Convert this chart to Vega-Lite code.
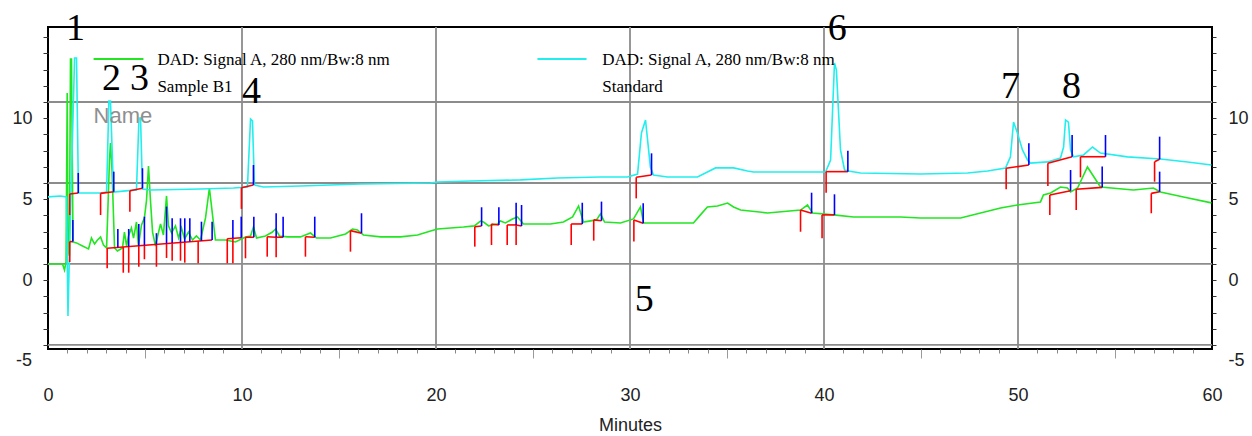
{
"$schema": "https://vega.github.io/schema/vega-lite/v6.json",
"width": 1164, "height": 322,
"autosize": {"type": "none"},
"padding": {"left": 48, "top": 27, "right": 40, "bottom": 87},
"background": "white",
"config": {
  "view": {"stroke": "#000", "strokeWidth": 2},
  "axis": {"domain": false, "grid": false, "labelFont": "Liberation Sans", "labelFontSize": 18, "labelColor": "#222", "tickColor": "#333", "titleFont": "Liberation Sans", "titleFontSize": 18, "titleFontWeight": "normal", "titleColor": "#222"}
},
"datasets": {
  "gx": [{"g":10},{"g":20},{"g":30},{"g":40},{"g":50}],
  "gy": [{"g":11},{"g":6},{"g":1},{"g":-4}],
  "tr": [
{"s":"G","t":0,"v":1.0},{"s":"G","t":0.75,"v":1.0},{"s":"G","t":0.85,"v":0.63},{"s":"G","t":0.93,"v":1.12},{"s":"G","t":0.99,"v":11.55},{"s":"G","t":1.03,"v":1.86},{"s":"G","t":1.10,"v":1.5},{"s":"G","t":1.16,"v":13.65},{"s":"G","t":1.21,"v":13.65},{"s":"G","t":1.29,"v":2.36},{"s":"G","t":1.47,"v":2.30},{"s":"G","t":1.78,"v":2.11},{"s":"G","t":2.09,"v":1.93},{"s":"G","t":2.24,"v":2.60},{"s":"G","t":2.40,"v":2.23},{"s":"G","t":2.55,"v":2.48},{"s":"G","t":2.71,"v":2.67},{"s":"G","t":2.86,"v":2.17},{"s":"G","t":3.02,"v":1.99},{"s":"G","t":3.17,"v":7.42},{"s":"G","t":3.22,"v":8.47},{"s":"G","t":3.30,"v":6.80},{"s":"G","t":3.43,"v":1.99},{"s":"G","t":3.58,"v":1.80},{"s":"G","t":3.84,"v":1.99},{"s":"G","t":3.94,"v":2.97},{"s":"G","t":4.05,"v":2.11},{"s":"G","t":4.15,"v":2.73},{"s":"G","t":4.30,"v":3.22},{"s":"G","t":4.41,"v":2.60},{"s":"G","t":4.56,"v":3.59},{"s":"G","t":4.66,"v":2.11},{"s":"G","t":4.82,"v":3.41},{"s":"G","t":4.97,"v":3.84},{"s":"G","t":5.08,"v":4.95},{"s":"G","t":5.18,"v":7.05},{"s":"G","t":5.28,"v":4.95},{"s":"G","t":5.39,"v":2.97},{"s":"G","t":5.54,"v":2.11},{"s":"G","t":5.70,"v":2.97},{"s":"G","t":5.80,"v":3.47},{"s":"G","t":5.95,"v":2.79},{"s":"G","t":6.11,"v":5.20},{"s":"G","t":6.21,"v":3.35},{"s":"G","t":6.37,"v":2.91},{"s":"G","t":6.57,"v":3.35},{"s":"G","t":6.73,"v":2.60},{"s":"G","t":6.88,"v":3.22},{"s":"G","t":7.04,"v":2.54},{"s":"G","t":7.24,"v":2.97},{"s":"G","t":7.45,"v":2.48},{"s":"G","t":7.65,"v":2.73},{"s":"G","t":7.86,"v":2.48},{"s":"G","t":8.12,"v":3.84},{"s":"G","t":8.32,"v":5.69},{"s":"G","t":8.48,"v":4.03},{"s":"G","t":8.63,"v":2.48},{"s":"G","t":9.15,"v":2.48},{"s":"G","t":9.66,"v":2.36},{"s":"G","t":10.18,"v":2.67},{"s":"G","t":10.44,"v":2.73},{"s":"G","t":10.59,"v":3.28},{"s":"G","t":10.75,"v":2.60},{"s":"G","t":11.21,"v":2.73},{"s":"G","t":11.57,"v":2.97},{"s":"G","t":11.73,"v":3.16},{"s":"G","t":11.93,"v":2.73},{"s":"G","t":12.35,"v":2.67},{"s":"G","t":13.01,"v":2.67},{"s":"G","t":13.53,"v":2.91},{"s":"G","t":13.84,"v":2.60},{"s":"G","t":14.56,"v":2.60},{"s":"G","t":15.34,"v":2.85},{"s":"G","t":15.70,"v":3.16},{"s":"G","t":15.95,"v":3.10},{"s":"G","t":16.26,"v":2.79},{"s":"G","t":17.14,"v":2.67},{"s":"G","t":18.17,"v":2.67},{"s":"G","t":19.05,"v":2.79},{"s":"G","t":19.72,"v":3.04},{"s":"G","t":20.08,"v":3.16},{"s":"G","t":21.42,"v":3.28},{"s":"G","t":21.98,"v":3.35},{"s":"G","t":22.29,"v":3.65},{"s":"G","t":22.45,"v":3.59},{"s":"G","t":22.71,"v":3.35},{"s":"G","t":23.17,"v":3.47},{"s":"G","t":23.32,"v":3.65},{"s":"G","t":23.58,"v":3.53},{"s":"G","t":23.94,"v":3.78},{"s":"G","t":24.20,"v":3.90},{"s":"G","t":24.51,"v":3.47},{"s":"G","t":25.90,"v":3.47},{"s":"G","t":26.57,"v":3.59},{"s":"G","t":27.04,"v":3.90},{"s":"G","t":27.35,"v":4.58},{"s":"G","t":27.60,"v":3.59},{"s":"G","t":28.27,"v":3.72},{"s":"G","t":28.48,"v":4.09},{"s":"G","t":28.69,"v":3.59},{"s":"G","t":29.51,"v":3.53},{"s":"G","t":30.18,"v":3.78},{"s":"G","t":30.54,"v":4.52},{"s":"G","t":30.70,"v":3.53},{"s":"G","t":31.93,"v":3.53},{"s":"G","t":33.27,"v":3.53},{"s":"G","t":33.63,"v":4.03},{"s":"G","t":33.99,"v":4.52},{"s":"G","t":34.51,"v":4.58},{"s":"G","t":35.03,"v":4.76},{"s":"G","t":35.34,"v":4.52},{"s":"G","t":35.70,"v":4.33},{"s":"G","t":37.09,"v":4.15},{"s":"G","t":38.79,"v":4.33},{"s":"G","t":39.15,"v":4.64},{"s":"G","t":39.41,"v":4.15},{"s":"G","t":40.49,"v":4.03},{"s":"G","t":41.52,"v":3.90},{"s":"G","t":43.94,"v":3.90},{"s":"G","t":44.97,"v":3.84},{"s":"G","t":47.04,"v":3.84},{"s":"G","t":48.07,"v":4.15},{"s":"G","t":49.10,"v":4.46},{"s":"G","t":49.97,"v":4.64},{"s":"G","t":51.16,"v":4.83},{"s":"G","t":51.31,"v":5.26},{"s":"G","t":51.68,"v":5.38},{"s":"G","t":52.19,"v":5.75},{"s":"G","t":52.55,"v":5.69},{"s":"G","t":52.71,"v":5.44},{"s":"G","t":53.07,"v":5.69},{"s":"G","t":53.58,"v":6.99},{"s":"G","t":54.25,"v":5.75},{"s":"G","t":55.95,"v":5.57},{"s":"G","t":56.98,"v":5.69},{"s":"G","t":57.34,"v":5.44},{"s":"G","t":58.53,"v":5.14},{"s":"G","t":59.97,"v":4.77},
{"s":"C","t":0,"v":5.14},{"s":"C","t":0.64,"v":5.20},{"s":"C","t":0.95,"v":5.14},{"s":"C","t":1.03,"v":-2.21},{"s":"C","t":1.11,"v":1.86},{"s":"C","t":1.37,"v":13.72},{"s":"C","t":1.47,"v":13.72},{"s":"C","t":1.57,"v":5.38},{"s":"C","t":2.19,"v":5.38},{"s":"C","t":2.71,"v":5.38},{"s":"C","t":3.02,"v":5.44},{"s":"C","t":3.14,"v":11.06},{"s":"C","t":3.22,"v":11.06},{"s":"C","t":3.38,"v":5.44},{"s":"C","t":4.00,"v":5.51},{"s":"C","t":4.56,"v":5.57},{"s":"C","t":4.69,"v":10.01},{"s":"C","t":4.77,"v":10.01},{"s":"C","t":4.87,"v":5.63},{"s":"C","t":5.28,"v":5.57},{"s":"C","t":7.86,"v":5.63},{"s":"C","t":9.56,"v":5.69},{"s":"C","t":10.28,"v":5.75},{"s":"C","t":10.44,"v":9.95},{"s":"C","t":10.54,"v":9.83},{"s":"C","t":10.64,"v":5.88},{"s":"C","t":11.10,"v":5.75},{"s":"C","t":13.01,"v":5.81},{"s":"C","t":16.11,"v":5.94},{"s":"C","t":19.72,"v":6.0},{"s":"C","t":20.08,"v":6.06},{"s":"C","t":21.78,"v":6.12},{"s":"C","t":24.36,"v":6.19},{"s":"C","t":26.26,"v":6.31},{"s":"C","t":28.48,"v":6.37},{"s":"C","t":29.87,"v":6.37},{"s":"C","t":30.39,"v":6.55},{"s":"C","t":30.59,"v":9.09},{"s":"C","t":30.80,"v":9.89},{"s":"C","t":31.05,"v":6.99},{"s":"C","t":31.21,"v":6.49},{"s":"C","t":31.93,"v":6.37},{"s":"C","t":33.48,"v":6.37},{"s":"C","t":33.99,"v":6.68},{"s":"C","t":34.41,"v":6.93},{"s":"C","t":35.34,"v":6.93},{"s":"C","t":36.06,"v":6.74},{"s":"C","t":36.37,"v":6.68},{"s":"C","t":40.08,"v":6.68},{"s":"C","t":40.34,"v":7.42},{"s":"C","t":40.54,"v":13.41},{"s":"C","t":40.64,"v":12.97},{"s":"C","t":40.85,"v":8.04},{"s":"C","t":41.06,"v":6.80},{"s":"C","t":41.26,"v":6.74},{"s":"C","t":41.88,"v":6.62},{"s":"C","t":44.97,"v":6.55},{"s":"C","t":47.40,"v":6.62},{"s":"C","t":48.43,"v":6.74},{"s":"C","t":49.36,"v":6.93},{"s":"C","t":49.61,"v":7.61},{"s":"C","t":49.77,"v":9.76},{"s":"C","t":49.97,"v":9.09},{"s":"C","t":50.23,"v":8.04},{"s":"C","t":50.49,"v":7.42},{"s":"C","t":50.64,"v":7.23},{"s":"C","t":51.52,"v":7.30},{"s":"C","t":52.19,"v":7.54},{"s":"C","t":52.35,"v":8.22},{"s":"C","t":52.45,"v":9.89},{"s":"C","t":52.60,"v":9.76},{"s":"C","t":52.71,"v":8.04},{"s":"C","t":52.86,"v":7.61},{"s":"C","t":53.38,"v":7.73},{"s":"C","t":53.84,"v":8.22},{"s":"C","t":54.25,"v":7.85},{"s":"C","t":55.64,"v":7.61},{"s":"C","t":57.34,"v":7.48},{"s":"C","t":58.74,"v":7.30},{"s":"C","t":59.97,"v":7.11}
  ],
  "ig": [
{"k":"b","t":1.12,"v":5.32,"t2":1.56,"v2":5.38},{"k":"s","t":1.12,"v":5.32,"t2":1.12,"v2":4.02},{"k":"e","t":1.56,"v":5.38,"t2":1.56,"v2":6.62},
{"k":"b","t":2.71,"v":5.36,"t2":3.39,"v2":5.46},{"k":"s","t":2.71,"v":5.36,"t2":2.71,"v2":4.02},{"k":"e","t":3.39,"v":5.46,"t2":3.39,"v2":6.70},
{"k":"b","t":4.22,"v":5.52,"t2":4.87,"v2":5.67},{"k":"s","t":4.22,"v":5.52,"t2":4.22,"v2":4.23},{"k":"e","t":4.87,"v":5.67,"t2":4.87,"v2":6.91},
{"k":"b","t":9.97,"v":5.71,"t2":10.59,"v2":5.88},{"k":"s","t":9.97,"v":5.71,"t2":9.97,"v2":4.40},{"k":"e","t":10.59,"v":5.88,"t2":10.59,"v2":7.11},
{"k":"b","t":30.32,"v":6.35,"t2":31.11,"v2":6.49},{"k":"s","t":30.32,"v":6.35,"t2":30.32,"v2":5.05},{"k":"e","t":31.11,"v":6.49,"t2":31.11,"v2":7.83},
{"k":"b","t":40.11,"v":6.70,"t2":41.23,"v2":6.70},{"k":"s","t":40.11,"v":6.70,"t2":40.11,"v2":5.40},{"k":"e","t":41.23,"v":6.70,"t2":41.23,"v2":7.99},
{"k":"b","t":49.39,"v":6.91,"t2":50.56,"v2":7.11},{"k":"s","t":49.39,"v":6.91,"t2":49.39,"v2":5.61},{"k":"e","t":50.56,"v":7.11,"t2":50.56,"v2":8.45},
{"k":"b","t":51.54,"v":7.22,"t2":52.79,"v2":7.62},{"k":"s","t":51.54,"v":7.22,"t2":51.54,"v2":5.81},{"k":"e","t":52.79,"v":7.62,"t2":52.79,"v2":8.96},
{"k":"b","t":53.22,"v":7.62,"t2":54.51,"v2":7.62},{"k":"s","t":53.22,"v":7.62,"t2":53.22,"v2":6.35},{"k":"e","t":54.51,"v":7.62,"t2":54.51,"v2":8.96},
{"k":"b","t":57.04,"v":7.31,"t2":57.30,"v2":7.46},{"k":"s","t":57.04,"v":7.31,"t2":57.04,"v2":6.08},{"k":"e","t":57.30,"v":7.46,"t2":57.30,"v2":8.86},
{"k":"b","t":1.12,"v":2.38,"t2":1.28,"v2":2.38},{"k":"s","t":1.12,"v":2.38,"t2":1.12,"v2":1.12},{"k":"e","t":1.28,"v":2.38,"t2":1.28,"v2":3.72},
{"k":"b","t":3.05,"v":1.97,"t2":8.46,"v2":2.48},{"k":"b","t":9.24,"v":2.56,"t2":9.96,"v2":2.62},
{"k":"s","t":3.05,"v":1.97,"t2":3.05,"v2":0.73},{"k":"s","t":3.88,"v":2.05,"t2":3.88,"v2":0.46},{"k":"s","t":4.16,"v":2.07,"t2":4.16,"v2":0.46},{"k":"s","t":4.68,"v":2.12,"t2":4.68,"v2":0.83},{"k":"s","t":4.97,"v":2.15,"t2":4.97,"v2":1.29},{"k":"s","t":5.59,"v":2.21,"t2":5.59,"v2":0.83},{"k":"s","t":6.11,"v":2.26,"t2":6.11,"v2":1.37},{"k":"s","t":6.40,"v":2.29,"t2":6.40,"v2":1.20},{"k":"s","t":6.83,"v":2.33,"t2":6.83,"v2":1.20},{"k":"s","t":7.05,"v":2.35,"t2":7.05,"v2":1.08},{"k":"s","t":7.74,"v":2.42,"t2":7.74,"v2":1.04},{"k":"s","t":9.24,"v":2.56,"t2":9.24,"v2":1.04},{"k":"s","t":9.53,"v":2.59,"t2":9.53,"v2":1.04},
{"k":"e","t":3.60,"v":2.02,"t2":3.60,"v2":3.16},{"k":"e","t":4.16,"v":2.07,"t2":4.16,"v2":3.16},{"k":"e","t":4.68,"v":2.12,"t2":4.68,"v2":3.47},{"k":"e","t":4.97,"v":2.15,"t2":4.97,"v2":3.92},{"k":"e","t":5.59,"v":2.21,"t2":5.59,"v2":2.90},{"k":"e","t":6.11,"v":2.26,"t2":6.11,"v2":4.54},{"k":"e","t":6.40,"v":2.29,"t2":6.40,"v2":3.82},{"k":"e","t":6.83,"v":2.33,"t2":6.83,"v2":3.82},{"k":"e","t":7.05,"v":2.35,"t2":7.05,"v2":3.82},{"k":"e","t":7.31,"v":2.38,"t2":7.31,"v2":3.82},{"k":"e","t":7.91,"v":2.43,"t2":7.91,"v2":3.61},{"k":"e","t":8.46,"v":2.48,"t2":8.46,"v2":3.61},{"k":"e","t":9.53,"v":2.59,"t2":9.53,"v2":3.72},{"k":"e","t":9.96,"v":2.62,"t2":9.96,"v2":3.92},
{"k":"b","t":10.18,"v":2.65,"t2":10.61,"v2":2.65},{"k":"s","t":10.18,"v":2.65,"t2":10.18,"v2":1.35},{"k":"e","t":10.61,"v":2.65,"t2":10.61,"v2":3.92},
{"k":"b","t":11.30,"v":2.68,"t2":11.76,"v2":2.65},{"k":"s","t":11.30,"v":2.68,"t2":11.30,"v2":1.45},{"k":"e","t":11.76,"v":2.65,"t2":11.76,"v2":4.13},
{"k":"b","t":11.76,"v":2.65,"t2":12.12,"v2":2.65},{"k":"s","t":11.76,"v":2.65,"t2":11.76,"v2":1.41},{"k":"e","t":12.12,"v":2.65,"t2":12.12,"v2":3.92},
{"k":"b","t":13.27,"v":2.68,"t2":13.75,"v2":2.65},{"k":"s","t":13.27,"v":2.68,"t2":13.27,"v2":1.45},{"k":"e","t":13.75,"v":2.65,"t2":13.75,"v2":3.92},
{"k":"b","t":15.59,"v":3.06,"t2":16.16,"v2":2.90},{"k":"s","t":15.59,"v":3.06,"t2":15.59,"v2":1.76},{"k":"e","t":16.16,"v":2.90,"t2":16.16,"v2":4.13},
{"k":"b","t":22.0,"v":3.30,"t2":22.35,"v2":3.34},{"k":"s","t":22.0,"v":3.30,"t2":22.0,"v2":2.07},{"k":"e","t":22.35,"v":3.34,"t2":22.35,"v2":4.50},
{"k":"b","t":22.86,"v":3.47,"t2":23.24,"v2":3.41},{"k":"s","t":22.86,"v":3.47,"t2":22.86,"v2":2.17},{"k":"e","t":23.24,"v":3.41,"t2":23.24,"v2":4.50},
{"k":"b","t":23.67,"v":3.41,"t2":24.13,"v2":3.41},{"k":"s","t":23.67,"v":3.41,"t2":23.67,"v2":2.17},{"k":"e","t":24.13,"v":3.41,"t2":24.13,"v2":4.78},
{"k":"b","t":24.13,"v":3.41,"t2":24.41,"v2":3.34},{"k":"s","t":24.13,"v":3.41,"t2":24.13,"v2":2.17},{"k":"e","t":24.41,"v":3.34,"t2":24.41,"v2":4.64},
{"k":"b","t":26.97,"v":3.47,"t2":27.54,"v2":3.47},{"k":"s","t":26.97,"v":3.47,"t2":26.97,"v2":2.17},{"k":"e","t":27.54,"v":3.47,"t2":27.54,"v2":4.78},
{"k":"b","t":28.13,"v":3.72,"t2":28.53,"v2":3.67},{"k":"s","t":28.13,"v":3.72,"t2":28.13,"v2":2.44},{"k":"e","t":28.53,"v":3.67,"t2":28.53,"v2":4.85},
{"k":"b","t":30.20,"v":3.72,"t2":30.68,"v2":3.51},{"k":"s","t":30.20,"v":3.72,"t2":30.20,"v2":2.38},{"k":"e","t":30.68,"v":3.51,"t2":30.68,"v2":4.75},
{"k":"b","t":38.79,"v":4.33,"t2":39.36,"v2":4.13},{"k":"s","t":38.79,"v":4.33,"t2":38.79,"v2":2.99},{"k":"e","t":39.36,"v":4.13,"t2":39.36,"v2":5.40},
{"k":"b","t":39.90,"v":4.03,"t2":40.54,"v2":4.03},{"k":"s","t":39.90,"v":4.03,"t2":39.90,"v2":2.58},{"k":"e","t":40.54,"v":4.03,"t2":40.54,"v2":5.30},
{"k":"b","t":51.64,"v":5.26,"t2":52.71,"v2":5.52},{"k":"s","t":51.64,"v":5.26,"t2":51.64,"v2":4.03},{"k":"e","t":52.71,"v":5.52,"t2":52.71,"v2":6.80},
{"k":"b","t":53.0,"v":5.61,"t2":54.34,"v2":5.73},{"k":"s","t":53.0,"v":5.61,"t2":53.0,"v2":4.33},{"k":"e","t":54.34,"v":5.73,"t2":54.34,"v2":7.01},
{"k":"b","t":56.87,"v":5.36,"t2":57.30,"v2":5.46},{"k":"s","t":56.87,"v":5.36,"t2":56.87,"v2":4.13},{"k":"e","t":57.30,"v":5.46,"t2":57.30,"v2":6.70}
  ],
  "dg": [{"txt":"1","t":1.42,"v":14.83},{"txt":"2","t":3.27,"v":11.74},{"txt":"3","t":4.72,"v":11.74},{"txt":"4","t":10.49,"v":10.94},{"txt":"5","t":30.73,"v":-1.90},{"txt":"6","t":40.68,"v":14.83},{"txt":"7","t":49.61,"v":11.25},{"txt":"8","t":52.76,"v":11.25}],
  "lt": [{"txt":"DAD: Signal A, 280 nm/Bw:8 nm","t":5.64,"v":13.28},{"txt":"Sample B1","t":5.64,"v":11.62},{"txt":"DAD: Signal A, 280 nm/Bw:8 nm","t":28.57,"v":13.28},{"txt":"Standard","t":28.57,"v":11.62}],
  "ll": [{"s":"G","t":2.35,"t2":4.92,"v":13.65},{"s":"C","t":25.23,"t2":27.76,"v":13.65}],
  "nm": [{"txt":"Name","t":2.35,"v":9.70}],
  "m5": [{"side":"L","txt":"-5","t":-0.82,"v":-5},{"side":"R","txt":"-5","t":60.85,"v":-5}]
},
"layer": [
  {"data": {"name": "gx"}, "mark": {"type": "rule", "color": "#8c8c8c", "strokeWidth": 1.8},
   "encoding": {"x": {"field": "g", "type": "quantitative", "scale": {"domain": [0, 60], "nice": false, "zero": false},
     "axis": {"orient": "bottom", "values": [0,1,2,3,4,5,6,7,8,9,10,11,12,13,14,15,16,17,18,19,20,21,22,23,24,25,26,27,28,29,30,31,32,33,34,35,36,37,38,39,40,41,42,43,44,45,46,47,48,49,50,51,52,53,54,55,56,57,58,59,60],
       "tickSize": 4, "tickColor": "#888", "labelPadding": 33, "labelFlush": false, "labelOverlap": false,
       "labelExpr": "datum.value % 10 === 0 ? datum.label : ''",
       "tickOpacity": {"condition": {"test": "datum.value % 5 === 0", "value": 0}, "value": 1},
       "title": "Minutes", "titlePadding": 12}}}},
  {"data": {"name": "gy"}, "mark": {"type": "rule", "color": "#8c8c8c", "strokeWidth": 1.8},
   "encoding": {"y": {"field": "g", "type": "quantitative", "scale": {"domain": [-4.25, 15.63], "nice": false, "zero": false},
     "axis": {"orient": "left", "values": [-4,-3,-2,-1,0,1,2,3,4,5,6,7,8,9,10,11,12,13,14,15],
       "tickSize": 5, "labelPadding": 11, "labelOverlap": false, "labelFlush": false,
       "labelExpr": "datum.value == 10 ? '10' : datum.value == 5 ? '5' : datum.value == 0 ? '0' : ''",
       "title": null}}}},
  {"data": {"name": "tr"}, "mark": {"type": "line", "strokeWidth": 1.6},
   "encoding": {
     "x": {"field": "t", "type": "quantitative", "scale": {"domain": [0, 60], "nice": false, "zero": false},
       "axis": {"orient": "bottom", "values": [5,15,25,35,45,55], "tickSize": 9, "tickColor": "#9a9a9a", "labels": false, "title": null}},
     "y": {"field": "v", "type": "quantitative", "scale": {"domain": [-4.25, 15.63], "nice": false, "zero": false},
       "axis": {"orient": "right", "values": [-4,-3,-2,-1,0,1,2,3,4,5,6,7,8,9,10,11,12,13,14,15],
         "tickSize": 4, "labelPadding": 12, "labelOverlap": false, "labelFlush": false,
         "labelExpr": "datum.value == 10 ? '10' : datum.value == 5 ? '5' : datum.value == 0 ? '0' : ''",
         "title": null}},
     "color": {"field": "s", "type": "nominal", "scale": {"domain": ["G", "C"], "range": ["#22e622", "#22eeee"]}, "legend": null},
     "order": {"field": "t", "type": "quantitative"}
   }},
  {"data": {"name": "ig"}, "transform": [{"filter": "datum.k != 'e'"}], "mark": {"type": "rule", "color": "#ff0000", "strokeWidth": 1.6},
   "encoding": {"x": {"field": "t", "type": "quantitative", "axis": null}, "y": {"field": "v", "type": "quantitative", "axis": null},
     "x2": {"field": "t2"}, "y2": {"field": "v2"}}},
  {"data": {"name": "ig"}, "transform": [{"filter": "datum.k == 'e'"}], "mark": {"type": "rule", "color": "#0000ff", "strokeWidth": 1.6},
   "encoding": {"x": {"field": "t", "type": "quantitative", "axis": null}, "y": {"field": "v", "type": "quantitative", "axis": null},
     "x2": {"field": "t2"}, "y2": {"field": "v2"}}},
  {"data": {"name": "ll"}, "mark": {"type": "rule", "strokeWidth": 2},
   "encoding": {"x": {"field": "t", "type": "quantitative", "axis": null}, "x2": {"field": "t2"}, "y": {"field": "v", "type": "quantitative", "axis": null},
     "color": {"field": "s", "type": "nominal", "legend": null}}},
  {"data": {"name": "dg"}, "mark": {"type": "text", "font": "Liberation Serif", "fontSize": 38, "align": "center", "baseline": "alphabetic", "color": "#000"},
   "encoding": {"x": {"field": "t", "type": "quantitative", "axis": null}, "y": {"field": "v", "type": "quantitative", "axis": null}, "text": {"field": "txt"}}},
  {"data": {"name": "lt"}, "mark": {"type": "text", "font": "Liberation Serif", "fontSize": 17, "align": "left", "baseline": "alphabetic", "color": "#000"},
   "encoding": {"x": {"field": "t", "type": "quantitative", "axis": null}, "y": {"field": "v", "type": "quantitative", "axis": null}, "text": {"field": "txt"}}},
  {"data": {"name": "nm"}, "mark": {"type": "text", "font": "Liberation Sans", "fontSize": 22, "align": "left", "baseline": "alphabetic", "color": "#8f8f8f"},
   "encoding": {"x": {"field": "t", "type": "quantitative", "axis": null}, "y": {"field": "v", "type": "quantitative", "axis": null}, "text": {"field": "txt"}}},
  {"data": {"name": "m5"}, "transform": [{"filter": "datum.side == 'L'"}], "mark": {"type": "text", "font": "Liberation Sans", "fontSize": 18, "align": "right", "baseline": "middle", "color": "#222"},
   "encoding": {"x": {"field": "t", "type": "quantitative", "axis": null}, "y": {"field": "v", "type": "quantitative", "axis": null}, "text": {"field": "txt"}}},
  {"data": {"name": "m5"}, "transform": [{"filter": "datum.side == 'R'"}], "mark": {"type": "text", "font": "Liberation Sans", "fontSize": 18, "align": "left", "baseline": "middle", "color": "#222"},
   "encoding": {"x": {"field": "t", "type": "quantitative", "axis": null}, "y": {"field": "v", "type": "quantitative", "axis": null}, "text": {"field": "txt"}}}
],
"resolve": {"axis": {"x": "independent", "y": "independent"}}
}
